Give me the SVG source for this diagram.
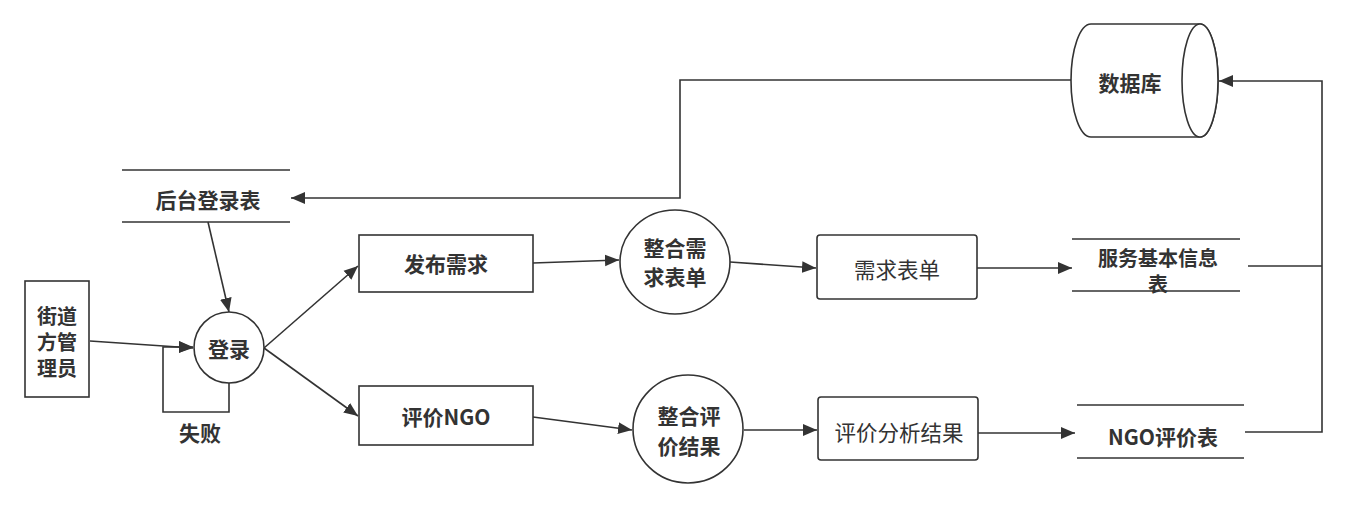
<svg xmlns="http://www.w3.org/2000/svg" width="1346" height="508" viewBox="0 0 1346 508">
<defs>
<marker id="arr" viewBox="0 0 10 10" refX="10" refY="5" markerWidth="14" markerHeight="14" markerUnits="userSpaceOnUse" orient="auto">
<path d="M0,0.8 L10,5 L0,9.2 Z" fill="#333"/>
</marker>
<style>
.s{fill:#fff;stroke:#333;stroke-width:1.6}
.l{fill:none;stroke:#333;stroke-width:1.6}
.c{fill:none;stroke:#333;stroke-width:1.6;marker-end:url(#arr)}
.t{font-family:"Noto Sans CJK SC","Liberation Sans",sans-serif;font-size:21px;font-weight:bold;fill:#333;text-anchor:middle;dominant-baseline:central}
.sm{font-size:20px}
.n{font-family:"Noto Sans CJK SC","Liberation Sans",sans-serif;font-size:21.5px;fill:#333;text-anchor:middle;dominant-baseline:central}
</style>
</defs>
<rect width="1346" height="508" fill="#fff"/>
<g id="connectors">
<path class="c" d="M1071,80 H680 V198 H291"/>
<path class="c" d="M208,222 L229,312"/>
<path class="c" d="M90,341 L193,348"/>
<path class="c" d="M229,383 V412 H163 V347 H193"/>
<path class="c" d="M264,348 L358,266"/>
<path class="c" d="M264,348 L358,416"/>
<path class="c" d="M533,263 L619,260"/>
<path class="c" d="M533,417 L632,430"/>
<path class="c" d="M730,262 L816,268"/>
<path class="c" d="M744,430 L817,430"/>
<path class="c" d="M977,268 L1072,268"/>
<path class="c" d="M978,433 L1075,433"/>
<path class="l" d="M1248,266 H1322"/>
<path class="c" d="M1245,432 H1322 V81 H1219"/>
<text class="t" x="200" y="432">失败</text>
</g>
<g id="db">
<path class="s" d="M1091,24 H1200 A18,56.5 0 0 1 1200,137 H1091 A20,56.5 0 0 1 1091,24 Z"/>
<ellipse class="s" cx="1200" cy="80.5" rx="18" ry="56.5"/>
<text class="t" x="1130" y="82">数据库</text>
</g>
<g id="login-table">
<line class="l" x1="122" y1="170" x2="290" y2="170"/>
<line class="l" x1="122" y1="222" x2="290" y2="222"/>
<text class="t" x="208" y="199">后台登录表</text>
</g>
<g id="admin">
<rect class="s" x="25" y="281" width="64" height="116"/>
<text class="t sm" x="57" y="315">街道</text>
<text class="t sm" x="57" y="341">方管</text>
<text class="t sm" x="57" y="367">理员</text>
</g>
<g id="login">
<ellipse class="s" cx="229" cy="347.5" rx="35" ry="35.5"/>
<text class="t" x="229" y="348">登录</text>
</g>
<g id="publish">
<rect class="s" x="359" y="235" width="174" height="57"/>
<text class="t" x="446" y="263">发布需求</text>
</g>
<g id="evaluate">
<rect class="s" x="359" y="386" width="174" height="59"/>
<text class="t" x="446" y="416">评价NGO</text>
</g>
<g id="merge-demand">
<ellipse class="s" cx="675" cy="262" rx="55" ry="52"/>
<text class="t" x="675" y="247">整合需</text>
<text class="t" x="675" y="276">求表单</text>
</g>
<g id="merge-eval">
<ellipse class="s" cx="688" cy="429" rx="55" ry="54"/>
<text class="t" x="689" y="415">整合评</text>
<text class="t" x="689" y="445">价结果</text>
</g>
<g id="demand-form">
<rect class="s" x="817" y="235" width="160" height="64" rx="3"/>
<text class="n" x="897" y="268">需求表单</text>
</g>
<g id="eval-result">
<rect class="s" x="818" y="397" width="160" height="63" rx="3"/>
<text class="n" x="899" y="431">评价分析结果</text>
</g>
<g id="service-table">
<line class="l" x1="1072" y1="239" x2="1240" y2="239"/>
<line class="l" x1="1072" y1="291" x2="1240" y2="291"/>
<text class="t sm" x="1158" y="257">服务基本信息</text>
<text class="t sm" x="1158" y="283">表</text>
</g>
<g id="ngo-table">
<line class="l" x1="1077" y1="405" x2="1244" y2="405"/>
<line class="l" x1="1077" y1="458" x2="1244" y2="458"/>
<text class="t" x="1163" y="436">NGO评价表</text>
</g>
</svg>
